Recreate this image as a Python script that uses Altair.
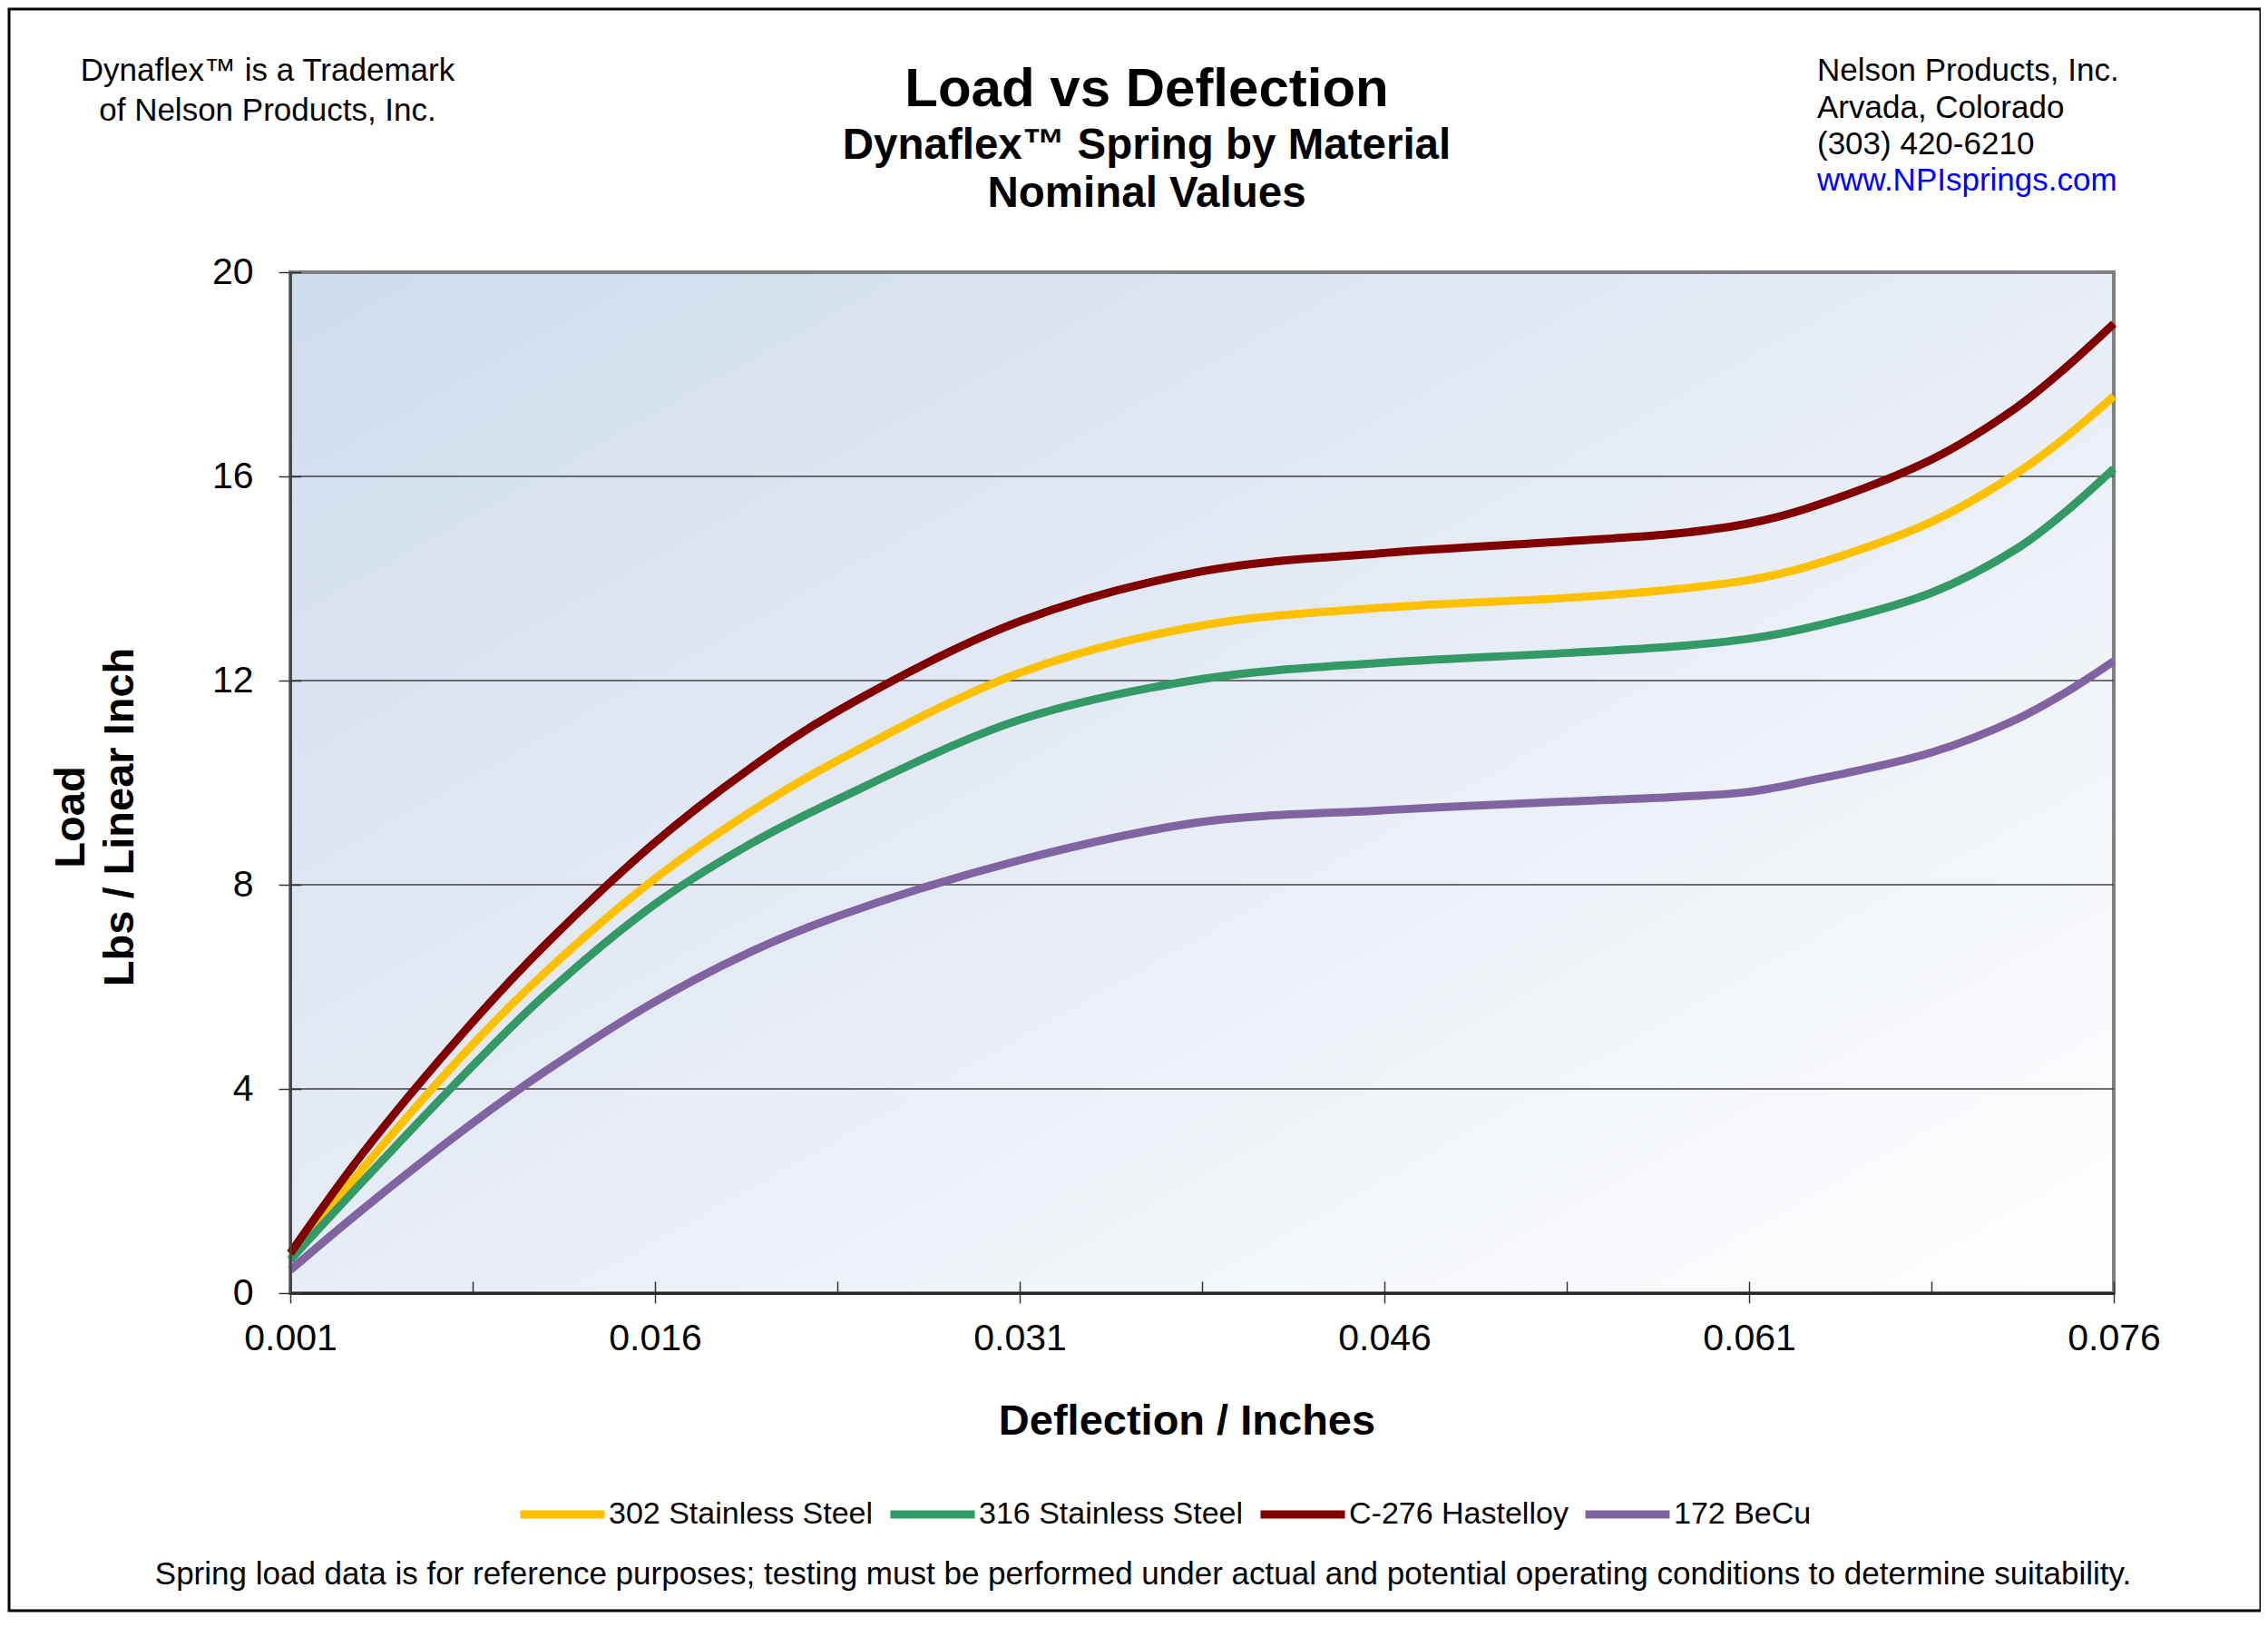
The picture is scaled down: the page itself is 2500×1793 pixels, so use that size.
import altair as alt
import pandas as pd

# deflection (inches) sampled along the curves
deflection = [0.001, 0.004, 0.0085, 0.0115, 0.016, 0.020, 0.0235, 0.031, 0.0385,
              0.046, 0.0535, 0.058, 0.061, 0.0633, 0.0685, 0.072, 0.074, 0.076]

# load (lbs / linear inch) per material
ss302 = [0.68, 2.45, 4.87, 6.29, 8.12, 9.45, 10.43, 12.15, 13.08,
         13.43, 13.62, 13.79, 13.97, 14.22, 15.11, 16.06, 16.76, 17.57]
ss316 = [0.65, 2.20, 4.45, 5.85, 7.62, 8.82, 9.67, 11.23, 12.03,
         12.35, 12.54, 12.67, 12.82, 13.02, 13.72, 14.58, 15.30, 16.15]
c276 = [0.78, 2.75, 5.31, 6.83, 8.83, 10.31, 11.40, 13.16, 14.14,
        14.50, 14.73, 14.88, 15.08, 15.36, 16.33, 17.35, 18.12, 18.99]
becu = [0.45, 1.65, 3.33, 4.35, 5.71, 6.70, 7.38, 8.48, 9.23,
        9.46, 9.63, 9.72, 9.82, 10.02, 10.59, 11.24, 11.76, 12.38]

materials = ["302 Stainless Steel", "316 Stainless Steel", "C-276 Hastelloy", "172 BeCu"]
colors = ["#FFC000", "#339966", "#800000", "#8064A2"]

x_ticks = [0.001, 0.016, 0.031, 0.046, 0.061, 0.076]
x_minor = [0.001, 0.0085, 0.016, 0.0235, 0.031, 0.0385, 0.046, 0.0535, 0.061, 0.0685, 0.076]
y_ticks = [0, 4, 8, 12, 16, 20]
y_grid = [4, 8, 12, 16]

W, H = 2010, 1125
FONT = "Liberation Sans"

rows = []
for name, loads in zip(materials, [ss302, ss316, c276, becu]):
    for d, v in zip(deflection, loads):
        rows.append({"material": name, "deflection": d, "load": v})
df = pd.DataFrame(rows)

xscale = alt.Scale(domain=[0.001, 0.076], nice=False, zero=False)
yscale = alt.Scale(domain=[0, 20], nice=False)

one = pd.DataFrame({"k": [0]})

# plot background with diagonal gradient and grey frame
backdrop = alt.Chart(one).mark_rect(
    color=alt.Gradient(
        gradient="linear", x1=0, y1=0, x2=1, y2=1,
        stops=[alt.GradientStop(color="#CFDCED", offset=0),
               alt.GradientStop(color="#E9EEF6", offset=0.55),
               alt.GradientStop(color="#FFFFFF", offset=1)],
    ),
    stroke="#808080", strokeWidth=4,
).encode(x=alt.value(0), x2=alt.value(W), y=alt.value(0), y2=alt.value(H))

grid = alt.Chart(pd.DataFrame({"v": y_grid})).mark_rule(
    color="#404040", strokeWidth=1.3
).encode(
    y=alt.Y("v:Q", scale=yscale, axis=None),
    x=alt.value(0), x2=alt.value(W),
)

lines = alt.Chart(df).mark_line(strokeWidth=9, interpolate="catmull-rom").encode(
    x=alt.X("deflection:Q", scale=xscale, axis=alt.Axis(
        values=x_ticks, format=".3f", orient="bottom", zindex=1,
        tickSize=11, tickColor="#333333", tickWidth=1.5,
        labelFontSize=41, labelPadding=19, labelColor="black", labelFlush=False,
        domainColor="#262626", domainWidth=3, grid=False,
        title="Deflection / Inches", titleFontSize=47, titleFontWeight="bold",
        titleColor="black", titleX=988, titleY=155, titleBaseline="alphabetic")),
    y=alt.Y("load:Q", scale=yscale, axis=alt.Axis(
        values=y_ticks, orient="left", zindex=1,
        tickSize=13, tickColor="#333333", tickWidth=1.5,
        labelFontSize=41, labelPadding=28, labelColor="black",
        domainColor="#404040", domainWidth=2.5, grid=False,
        title=["Load", "Lbs / Linear Inch"], titleFontSize=47, titleFontWeight="bold",
        titleColor="black", titleAngle=270, titleAlign="center",
        titleBaseline="alphabetic", titleX=-228, titleY=600, titleLineHeight=54)),
    color=alt.Color("material:N", sort=materials,
                    scale=alt.Scale(domain=materials, range=colors),
                    legend=alt.Legend(
                        title=None, orient="none", direction="horizontal",
                        legendX=249, legendY=1318,
                        symbolType="stroke", symbolSize=8649, symbolStrokeWidth=9,
                        labelFontSize=34, labelOffset=0, labelLimit=0,
                        labelColor="black", columnPadding=0)),
)

# invisible copy that carries the inward ticks (top axis pushed down, right axis pushed left)
inner_ticks = alt.Chart(df).mark_line(strokeOpacity=0).encode(
    x=alt.X("deflection:Q", scale=xscale, axis=alt.Axis(
        values=x_minor, orient="top", offset=-H, tickSize=13, tickColor="#333333",
        tickWidth=1.5, labels=False, domain=False, grid=False, title=None, zindex=1)),
    y=alt.Y("load:Q", scale=yscale, axis=alt.Axis(
        values=y_ticks, orient="right", offset=-W, tickSize=12, tickColor="#333333",
        tickWidth=1.5, labels=False, domain=False, grid=False, title=None, zindex=1)),
)

title = alt.Chart(one).mark_text(
    text="Load vs Deflection", font=FONT, fontSize=60, fontWeight="bold",
    align="center", baseline="alphabetic", color="black",
).encode(x=alt.value(944), y=alt.value(-183))

subtitle = alt.Chart(one).mark_text(
    text=["Dynaflex™ Spring by Material", "Nominal Values"], font=FONT, fontSize=47.5,
    fontWeight="bold", lineHeight=53, align="center", baseline="alphabetic", color="black",
).encode(x=alt.value(944), y=alt.value(-125))

trademark = alt.Chart(one).mark_text(
    text=["Dynaflex™ is a Trademark", "of Nelson Products, Inc."], font=FONT, fontSize=35,
    lineHeight=44, align="center", baseline="alphabetic", color="black",
).encode(x=alt.value(-25), y=alt.value(-211))

address = alt.Chart(one).mark_text(
    text=["Nelson Products, Inc.", "Arvada, Colorado", "(303) 420-6210"], font=FONT,
    fontSize=35, lineHeight=40.5, align="left", baseline="alphabetic", color="black",
).encode(x=alt.value(1683), y=alt.value(-211))

website = alt.Chart(one).mark_text(
    text="www.NPIsprings.com", font=FONT, fontSize=35, align="left",
    baseline="alphabetic", color="#0000FF",
).encode(x=alt.value(1683), y=alt.value(-90))

footnote = alt.Chart(one).mark_text(
    text="Spring load data is for reference purposes; testing must be performed under "
         "actual and potential operating conditions to determine suitability.",
    font=FONT, fontSize=35, align="center", baseline="alphabetic", color="black",
).encode(x=alt.value(940), y=alt.value(1446))

frame = alt.Chart(one).mark_rect(filled=False, stroke="black", strokeWidth=3).encode(
    x=alt.value(-310), x2=alt.value(2172), y=alt.value(-290), y2=alt.value(1475),
)

chart = alt.layer(
    backdrop, grid, lines, inner_ticks, title, subtitle, trademark, address,
    website, footnote, frame
).resolve_axis(
    x="independent", y="independent"
).properties(
    width=W, height=H,
    padding={"left": 312, "top": 292, "right": 162, "bottom": 360},
    autosize=alt.AutoSizeParams(type="none"),
    background="white",
).configure(
    font=FONT,
).configure_view(
    strokeWidth=0,
)

chart.save("out.html", embed_options={"renderer": "svg", "actions": False})
